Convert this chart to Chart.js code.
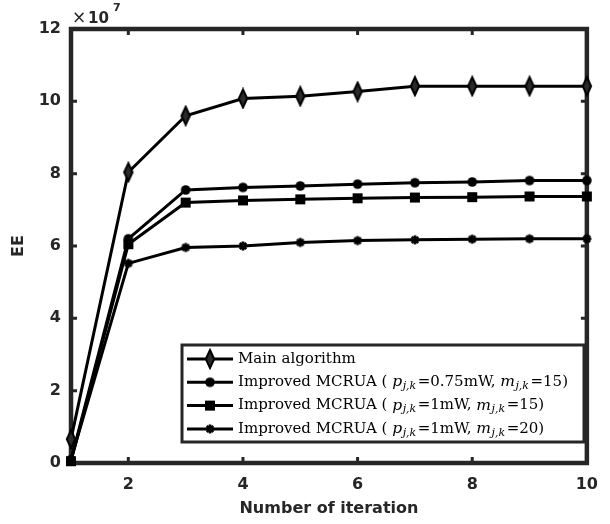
<!DOCTYPE html>
<html>
<head>
<meta charset="utf-8">
<script src="https://cdn.jsdelivr.net/npm/chart.js@4.4.1/dist/chart.umd.min.js"></script>
<style>
  html, body { margin: 0; padding: 0; background: #fff; }
  #wrap { width: 610px; height: 524px; }
</style>
</head>
<body>
<div id="wrap"><canvas id="eeChart" width="610" height="524"></canvas></div>
<script>
// EE vs number of iteration (in units of 1e7)
const iterations = [1, 2, 3, 4, 5, 6, 7, 8, 9, 10];
const mainAlgorithm = [0.66, 8.04, 9.6, 10.08, 10.14, 10.27, 10.42, 10.42, 10.42, 10.42];
const mcruaP075M15 = [0.08, 6.2, 7.55, 7.62, 7.66, 7.71, 7.75, 7.77, 7.81, 7.81];
const mcruaP1M15 = [0.05, 6.05, 7.2, 7.26, 7.29, 7.32, 7.34, 7.35, 7.37, 7.37];
const mcruaP1M20 = [0.1, 5.52, 5.96, 6.0, 6.1, 6.15, 6.17, 6.19, 6.2, 6.2];

const xTickValues = [2, 4, 6, 8, 10];
const yTickValues = [0, 2, 4, 6, 8, 10, 12];

// legend labels, split into plain / italic / subscript parts
const legendLabels = [
  [["Main algorithm", "n"]],
  [["Improved MCRUA ( ", "n"], ["p", "i"], ["j,k", "s"], ["=0.75mW, ", "n"], ["m", "i"], ["j,k", "s"], ["=15)", "n"]],
  [["Improved MCRUA ( ", "n"], ["p", "i"], ["j,k", "s"], ["=1mW, ", "n"], ["m", "i"], ["j,k", "s"], ["=15)", "n"]],
  [["Improved MCRUA ( ", "n"], ["p", "i"], ["j,k", "s"], ["=1mW, ", "n"], ["m", "i"], ["j,k", "s"], ["=20)", "n"]]
];

const frameColor = "#262626";
const tickFont = { family: "DejaVu Sans", size: 16, weight: "bold" };

// Marker images (used both by the datasets and the legend)
function makeMarker(w, h, draw) {
  const c = document.createElement("canvas");
  c.width = w; c.height = h;
  const g = c.getContext("2d");
  g.fillStyle = "#000";
  g.strokeStyle = "#000";
  draw(g, w, h);
  return c;
}

const diamondMarker = makeMarker(14, 22, (g) => {
  g.beginPath();
  g.moveTo(7, 2); g.lineTo(11.2, 11); g.lineTo(7, 20); g.lineTo(2.8, 11); g.closePath();
  g.fillStyle = "#2a2a2a";
  g.fill();
  g.lineWidth = 2;
  g.stroke();
});
const circleMarker = makeMarker(12, 12, (g) => {
  g.beginPath();
  g.arc(6, 6, 4.8, 0, Math.PI * 2);
  g.fill();
});
const squareMarker = makeMarker(12, 12, (g) => {
  g.fillRect(1, 1, 10, 10);
});
const starMarker = makeMarker(12, 12, (g) => {
  g.lineWidth = 2.6;
  g.beginPath();
  g.moveTo(6, 1.5); g.lineTo(6, 10.5);
  g.moveTo(1.5, 6); g.lineTo(10.5, 6);
  g.moveTo(2.8, 2.8); g.lineTo(9.2, 9.2);
  g.moveTo(9.2, 2.8); g.lineTo(2.8, 9.2);
  g.stroke();
});

const markers = [diamondMarker, circleMarker, squareMarker, starMarker];

function series(data, marker) {
  return {
    data: iterations.map((x, i) => ({ x: x, y: data[i] })),
    borderColor: "#000",
    borderWidth: 3,
    pointStyle: marker,
    pointRadius: 6,
    tension: 0,
    clip: false
  };
}

// Frame with inward ticks on all four sides
const framePlugin = {
  id: "frame",
  beforeDatasetsDraw(chart) {
    const { ctx, chartArea: a, scales } = chart;
    const len = 6;
    ctx.save();
    ctx.strokeStyle = frameColor;
    ctx.lineWidth = 3;
    ctx.beginPath();
    xTickValues.forEach(v => {
      const px = scales.x.getPixelForValue(v);
      ctx.moveTo(px, a.bottom); ctx.lineTo(px, a.bottom - len);
      ctx.moveTo(px, a.top); ctx.lineTo(px, a.top + len);
    });
    yTickValues.forEach(v => {
      const py = scales.y.getPixelForValue(v);
      ctx.moveTo(a.left, py); ctx.lineTo(a.left + len, py);
      ctx.moveTo(a.right, py); ctx.lineTo(a.right - len, py);
    });
    ctx.stroke();
    ctx.lineWidth = 4.5;
    ctx.strokeRect(a.left, a.top, a.right - a.left, a.bottom - a.top);

    // exponent label
    ctx.fillStyle = frameColor;
    ctx.textBaseline = "alphabetic";
    ctx.font = "17px 'DejaVu Sans'";
    ctx.fillText("\u00d7", a.left + 1, a.top - 6);
    ctx.font = "bold 15px 'DejaVu Sans'";
    ctx.fillText("10", a.left + 17, a.top - 6);
    ctx.font = "bold 11px 'DejaVu Sans'";
    ctx.fillText("7", a.left + 42, a.top - 18);
    ctx.restore();
  }
};

// Legend box drawn inside the plot area
const legendPlugin = {
  id: "mathLegend",
  afterDatasetsDraw(chart) {
    const { ctx } = chart;
    const box = { x: 182, y: 345, w: 402, h: 97 };
    ctx.save();
    ctx.fillStyle = "#fff";
    ctx.fillRect(box.x, box.y, box.w, box.h);
    ctx.strokeStyle = frameColor;
    ctx.lineWidth = 3;
    ctx.strokeRect(box.x, box.y, box.w, box.h);

    legendLabels.forEach((parts, i) => {
      const cy = box.y + 14 + i * 23.3;
      ctx.strokeStyle = "#000";
      ctx.lineWidth = 3;
      ctx.beginPath();
      ctx.moveTo(box.x + 5, cy); ctx.lineTo(box.x + 51, cy);
      ctx.stroke();
      const m = markers[i];
      ctx.drawImage(m, box.x + 28 - m.width / 2, cy - m.height / 2);

      let tx = box.x + 56;
      ctx.fillStyle = "#000";
      ctx.textBaseline = "middle";
      parts.forEach(([t, kind]) => {
        let dy = 0;
        if (kind === "n") ctx.font = "15px 'DejaVu Serif'";
        else if (kind === "i") ctx.font = "italic 15.5px 'DejaVu Serif'";
        else { ctx.font = "italic 11px 'DejaVu Serif'"; dy = 4; tx += 0.5; }
        ctx.fillText(t, tx, cy + dy);
        tx += ctx.measureText(t).width + (kind === "s" ? 1.5 : 0);
      });
    });
    ctx.restore();
  }
};

const ctx = document.getElementById("eeChart").getContext("2d");
new Chart(ctx, {
  type: "line",
  data: {
    datasets: [
      series(mainAlgorithm, diamondMarker),
      series(mcruaP075M15, circleMarker),
      series(mcruaP1M15, squareMarker),
      series(mcruaP1M20, starMarker)
    ]
  },
  options: {
    responsive: false,
    animation: false,
    devicePixelRatio: 1,
    layout: { padding: { top: 29, right: 22, left: 0, bottom: 0 } },
    plugins: { legend: { display: false }, tooltip: { enabled: false } },
    scales: {
      x: {
        type: "linear",
        min: 1,
        max: 10,
        afterBuildTicks: s => { s.ticks = xTickValues.map(v => ({ value: v })); },
        afterFit: s => { s.height = 61; },
        grid: { display: false, drawTicks: false },
        border: { display: false },
        ticks: { color: frameColor, font: tickFont, padding: 12 },
        title: {
          display: true,
          text: "Number of iteration",
          color: frameColor,
          font: tickFont,
          padding: { top: 0, bottom: 6 }
        }
      },
      y: {
        type: "linear",
        min: 0,
        max: 12,
        afterBuildTicks: s => { s.ticks = yTickValues.map(v => ({ value: v })); },
        afterFit: s => { s.width = 71; },
        grid: { display: false, drawTicks: false },
        border: { display: false },
        ticks: { color: frameColor, font: tickFont, padding: 10 },
        title: {
          display: true,
          text: "EE",
          color: frameColor,
          font: tickFont,
          padding: { top: 9, bottom: 0 }
        }
      }
    }
  },
  plugins: [framePlugin, legendPlugin]
});
</script>
</body>
</html>
